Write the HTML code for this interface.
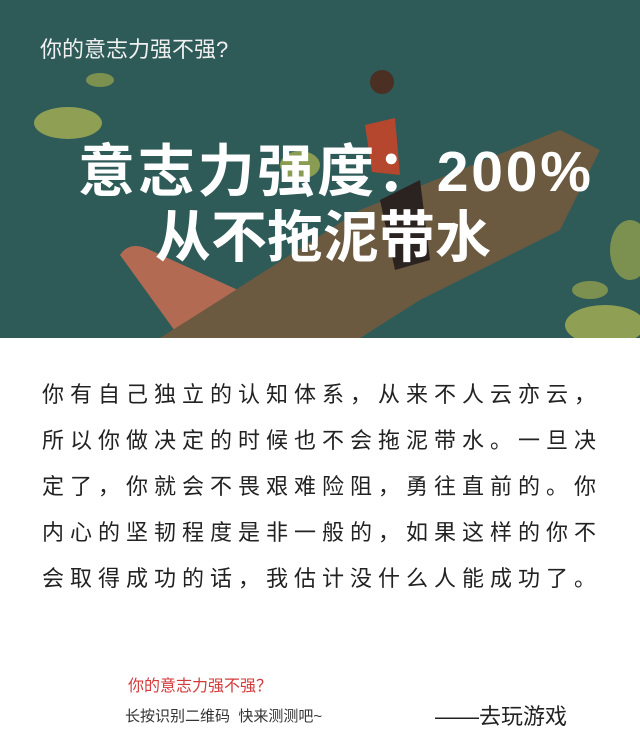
<!DOCTYPE html>
<html><head><meta charset="utf-8"><style>
html,body{margin:0;padding:0;width:640px;height:752px;overflow:hidden;background:#fff;font-family:"Liberation Sans","Noto Sans CJK SC",sans-serif;}
.abs{position:absolute;white-space:nowrap;}
</style></head><body>
<div style="position:relative;width:640px;height:752px;">
<svg width="640" height="338" style="position:absolute;left:0;top:0" viewBox="0 0 640 338">
<rect width="640" height="338" fill="#2e5a58"/>
<ellipse cx="68" cy="123" rx="34" ry="16" fill="#8fa055"/>
<ellipse cx="100" cy="80" rx="14" ry="7" fill="#7c9150"/>
<ellipse cx="300" cy="165" rx="20" ry="14" fill="#8a9c52"/>
<ellipse cx="605" cy="325" rx="40" ry="20" fill="#8fa055"/>
<ellipse cx="590" cy="290" rx="18" ry="9" fill="#7c9150"/>
<ellipse cx="630" cy="250" rx="20" ry="30" fill="#7c9150"/>
<path d="M120 255 Q130 240 150 250 L260 300 L300 338 L180 338 Z" fill="#b36a52"/>
<path d="M160 338 L220 300 L360 210 L560 130 L600 150 L560 230 L420 300 L360 338 Z" fill="#6c5a40"/>
<path d="M380 200 L420 180 L430 260 L395 270 Z" fill="#2a2320"/>
<path d="M365 125 L395 118 L400 175 L372 172 Z" fill="#b5472e"/>
<circle cx="382" cy="82" r="12" fill="#4a2f22"/>
</svg>
<div class="abs" style="left:40px;top:32px;font-size:22px;color:#f0f0f0;">你的意志力强不强?</div>
<div class="abs" style="left:78px;top:140px;font-size:57px;font-weight:bold;color:#fff;line-height:64px;letter-spacing:2.8px;">意志力强度：200%</div>
<div class="abs" style="left:155px;top:206px;font-size:56px;font-weight:bold;color:#fff;line-height:64px;">从不拖泥带水</div>
<div style="position:absolute;left:42px;top:372px;width:580px;font-size:22px;line-height:46px;letter-spacing:6px;color:#222;">
<div>你有自己独立的认知体系，从来不人云亦云，</div>
<div>所以你做决定的时候也不会拖泥带水。一旦决</div>
<div>定了，你就会不畏艰难险阻，勇往直前的。你</div>
<div>内心的坚韧程度是非一般的，如果这样的你不</div>
<div>会取得成功的话，我估计没什么人能成功了。</div>
</div>
<div class="abs" style="left:128px;top:672px;font-size:16px;color:#d43a3a;">你的意志力强不强？</div>
<div class="abs" style="left:125px;top:705px;font-size:15px;color:#333;">长按识别二维码&nbsp;&nbsp;快来测测吧~</div>
<div class="abs" style="left:435px;top:699px;font-size:22px;color:#222;letter-spacing:0px;">——去玩游戏</div>
</div>
</body></html>
